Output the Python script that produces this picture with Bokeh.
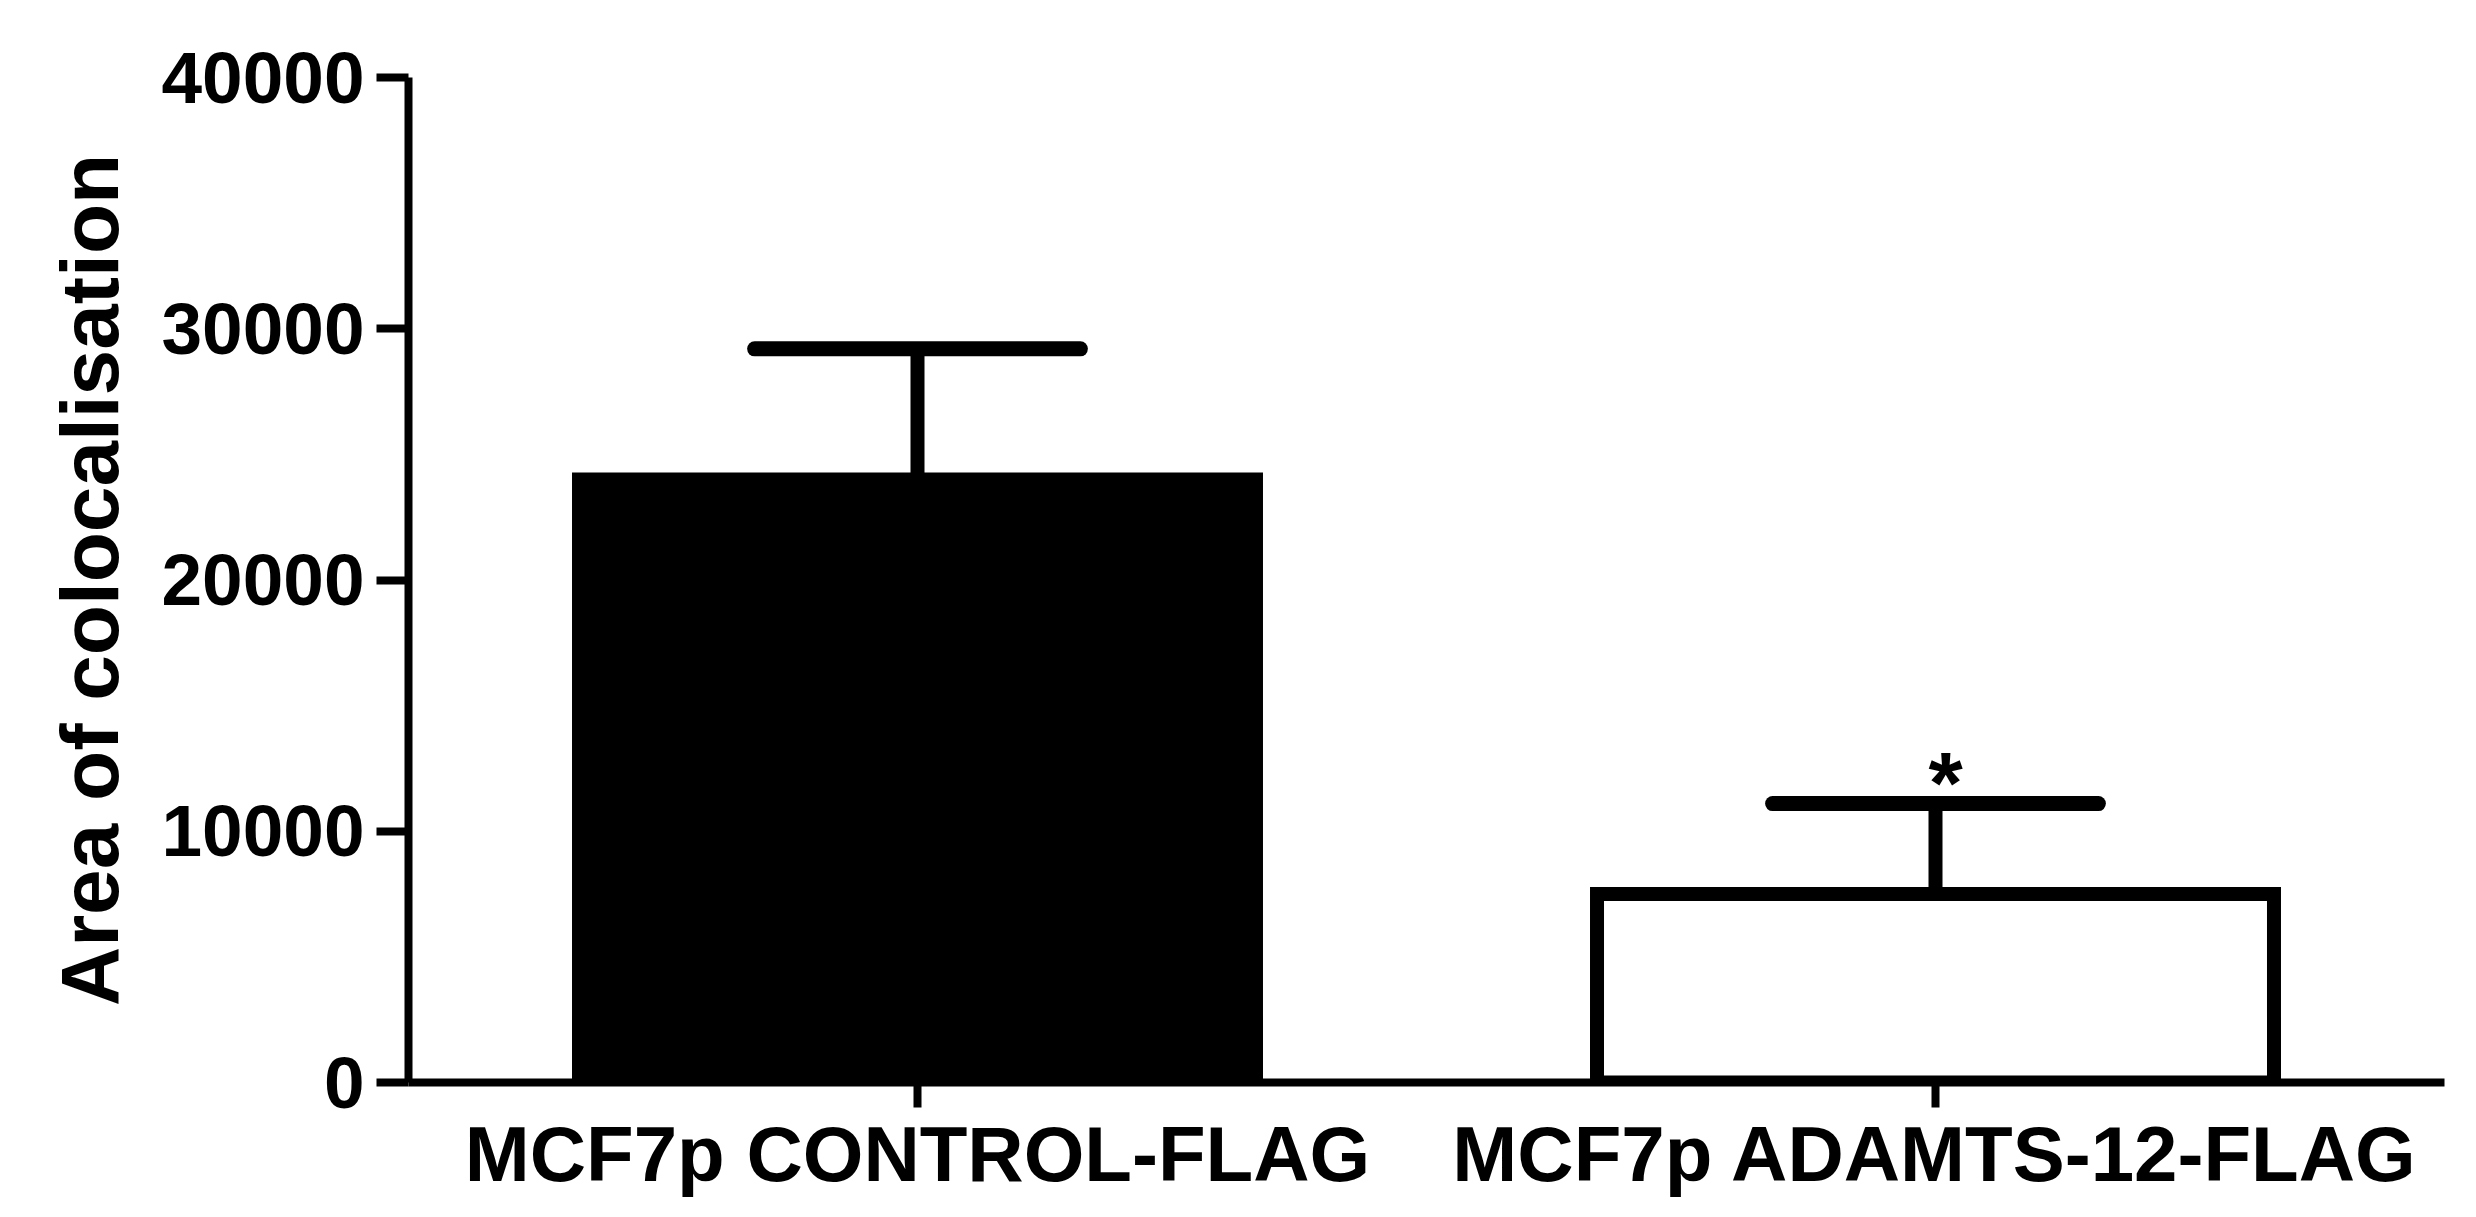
from bokeh.plotting import figure
from bokeh.models import FixedTicker, Range1d, ColumnDataSource, NumeralTickFormatter
from bokeh.embed import file_html
from bokeh.resources import INLINE
from bokeh.core.properties import value

# ---- data ----
categories = ["MCF7p CONTROL-FLAG", "MCF7p ADAMTS-12-FLAG"]
means = [24000, 7500]
errors = [5200, 3600]
significance = ["", "*"]
bar_fill = ["black", "white"]
y_ticks = [0, 10000, 20000, 30000, 40000]

FONT = "Liberation Sans"
W, H = 2456, 1200

xs = list(range(len(categories)))
upper = [m + e for m, e in zip(means, errors)]

p = figure(width=W, height=H, output_backend="svg", toolbar_location=None,
           x_range=Range1d(-0.5, len(categories) - 0.5), y_range=Range1d(0, 40000),
           min_border_left=408, min_border_right=12, min_border_top=77,
           min_border_bottom=117)
p.background_fill_color = "white"
p.border_fill_color = "white"
p.outline_line_color = None
p.xgrid.visible = False
p.ygrid.visible = False

src = ColumnDataSource(dict(x=xs, top=means, fill=bar_fill, up=upper))
p.vbar(x="x", top="top", bottom=0, width=0.665, source=src,
       fill_color="fill", line_color="black", line_width=14, line_join="miter")

# error bars (upper only)
p.segment(x0="x", y0="top", x1="x", y1="up", source=src,
          line_color="black", line_width=14)
cap = 0.16
p.segment(x0=[x - cap for x in xs], y0=upper, x1=[x + cap for x in xs], y1=upper,
          line_color="black", line_width=15, line_cap="round")

# significance marks
sig_x = [x for x, s in zip(xs, significance) if s]
sig_y = [u for u, s in zip(upper, significance) if s]
sig_t = [s for s in significance if s]
p.text(x=sig_x, y=sig_y, text=sig_t, text_align="center", text_baseline="alphabetic",
       text_font=value(FONT), text_font_style="bold", text_font_size="88px",
       text_color="black", y_offset=-21, x_offset=10)

# axes
p.xaxis.ticker = FixedTicker(ticks=xs)
p.xaxis.major_label_overrides = {x: c for x, c in zip(xs, categories)}
p.yaxis.ticker = FixedTicker(ticks=y_ticks)
p.yaxis.formatter = NumeralTickFormatter(format="0")

for ax in (p.xaxis, p.yaxis):
    ax.axis_line_width = 8
    ax.axis_line_color = "black"
    ax.major_tick_line_width = 8
    ax.major_tick_line_color = "black"
    ax.major_tick_in = 0
    ax.minor_tick_line_color = None
    ax.major_label_text_font = FONT
    ax.major_label_text_font_style = "bold"
    ax.major_label_text_color = "black"

p.yaxis.major_tick_out = 32
p.yaxis.major_label_standoff = 12
p.yaxis.major_label_text_font_size = "73px"
p.yaxis.axis_label = "Area of colocalisation"
p.yaxis.axis_label_text_font = FONT
p.yaxis.axis_label_text_font_style = "bold"
p.yaxis.axis_label_text_font_size = "82px"
p.yaxis.axis_label_text_color = "black"
p.yaxis.axis_label_standoff = 24

p.xaxis.major_tick_out = 25
p.xaxis.major_label_standoff = 2
p.xaxis.major_label_text_font_size = "78px"

open("out.html", "w").write(file_html(p, INLINE))
